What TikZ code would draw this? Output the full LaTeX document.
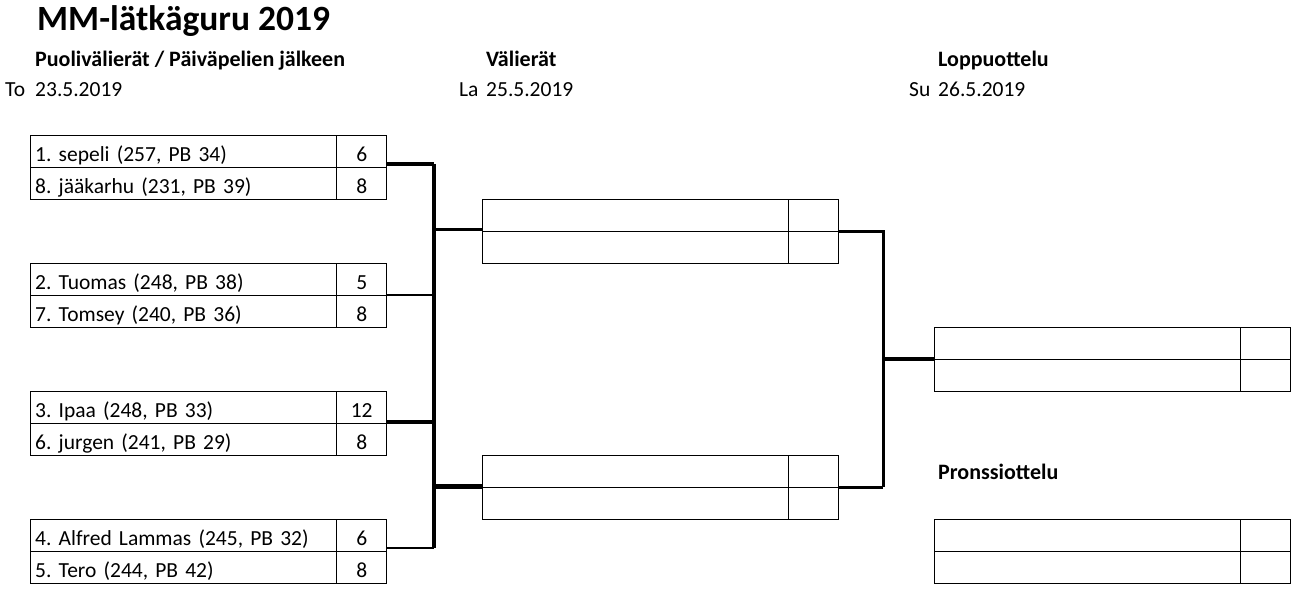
\documentclass[tikz,border=0pt]{standalone}
\usepackage{fontspec}
\setmainfont{Carlito}
\frenchspacing
\begin{document}
\begin{tikzpicture}[x=1pt,y=-1pt,
  every node/.style={font=\fontsize{21.5}{24}\selectfont},
  namecell/.style={draw, line width=1.4pt, anchor=north west, minimum height=32pt, text height=26pt, text depth=6pt, inner ysep=0pt, inner xsep=4.5pt, text width=297pt, align=left},
  scorecell/.style={draw, line width=1.4pt, anchor=north west, minimum height=32pt, text height=26pt, text depth=6pt, minimum width=50pt, inner sep=0pt, align=center},
  hdr/.style={anchor=base west, inner sep=0pt, font=\fontsize{22}{24}\selectfont\bfseries},
  plain/.style={anchor=base west, inner sep=0pt},
  conn/.style={line width=#1, line join=miter},
  conn/.default=2.5pt]
\useasboundingbox (0,0) rectangle (1295,590);

% headings
\node[anchor=base west, inner sep=0pt, font=\fontsize{35.5}{40}\selectfont\bfseries] (title) at (37,30) {MM-lätkäguru 2019};
\node[hdr] (h1) at (35,66) {Puolivälierät / Päiväpelien jälkeen};
\node[plain] (d1a) at (5,96) {To};
\node[plain] (d1b) at (35,96) {23.5.2019};
\node[hdr] (h2) at (486,66) {Välierät};
\node[plain] (d2a) at (459,96) {La};
\node[plain] (d2b) at (486,96) {25.5.2019};
\node[hdr] (h3) at (938,66) {Loppuottelu};
\node[plain] (d3a) at (909,96) {Su};
\node[plain] (d3b) at (938,96) {26.5.2019};
\node[hdr] (h4) at (938,479) {Pronssiottelu};

% quarter finals
\node[namecell] (q1a) at (30,135) {1. sepeli (257, PB 34)};
\node[scorecell] (q1as) at (336,135) {6};
\node[namecell] (q1b) at (30,167) {8. jääkarhu (231, PB 39)};
\node[scorecell] (q1bs) at (336,167) {8};

\node[namecell] (q2a) at (30,263) {2. Tuomas (248, PB 38)};
\node[scorecell] (q2as) at (336,263) {5};
\node[namecell] (q2b) at (30,295) {7. Tomsey (240, PB 36)};
\node[scorecell] (q2bs) at (336,295) {8};

\node[namecell] (q3a) at (30,391) {3. Ipaa (248, PB 33)};
\node[scorecell] (q3as) at (336,391) {12};
\node[namecell] (q3b) at (30,423) {6. jurgen (241, PB 29)};
\node[scorecell] (q3bs) at (336,423) {8};

\node[namecell] (q4a) at (30,519) {4. Alfred Lammas (245, PB 32)};
\node[scorecell] (q4as) at (336,519) {6};
\node[namecell] (q4b) at (30,551) {5. Tero (244, PB 42)};
\node[scorecell] (q4bs) at (336,551) {8};

% semi finals
\node[namecell] (s1a) at (482,199) {};
\node[scorecell] (s1as) at (788,199) {};
\node[namecell] (s1b) at (482,231) {};
\node[scorecell] (s1bs) at (788,231) {};

\node[namecell] (s2a) at (482,455) {};
\node[scorecell] (s2as) at (788,455) {};
\node[namecell] (s2b) at (482,487) {};
\node[scorecell] (s2bs) at (788,487) {};

% final
\node[namecell] (fa) at (934,327) {};
\node[scorecell] (fas) at (1240,327) {};
\node[namecell] (fb) at (934,359) {};
\node[scorecell] (fbs) at (1240,359) {};

% bronze
\node[namecell] (ba) at (934,519) {};
\node[scorecell] (bas) at (1240,519) {};
\node[namecell] (bb) at (934,551) {};
\node[scorecell] (bbs) at (1240,551) {};

% junction coordinates
\coordinate (j1) at (434,164);
\coordinate (j2) at (434,295);
\coordinate (j3) at (434,422);
\coordinate (j4) at (434,548);
\coordinate (js1) at (434,229);
\coordinate (js2) at (434,486);
\coordinate (k1) at (883,231);
\coordinate (k2) at (883,487);
\coordinate (kf) at (883,359);

% connectors
\draw[conn=3.5pt] (j1) -- (j4);
\draw[conn=3.5pt] (j1 -| q1as.east) -- (j1);
\draw[conn=2pt] (j2 -| q2as.east) -- (j2);
\draw[conn=4pt] (j3 -| q3as.east) -- (j3);
\draw[conn=2.5pt] (j4 -| q4as.east) -- (j4);
\draw[conn=3pt] (js1) -- (js1 -| s1a.west);
\draw[conn=5pt] (js2) -- (js2 -| s2a.west);

\draw[conn=3pt] (k1 -| s1bs.east) -- (k1) -- (k2);
\draw[conn=3pt] (k2 -| s2bs.east) -- (k2);
\draw[conn=3.5pt] (kf) -- (kf -| fb.west);
\end{tikzpicture}
\end{document}
